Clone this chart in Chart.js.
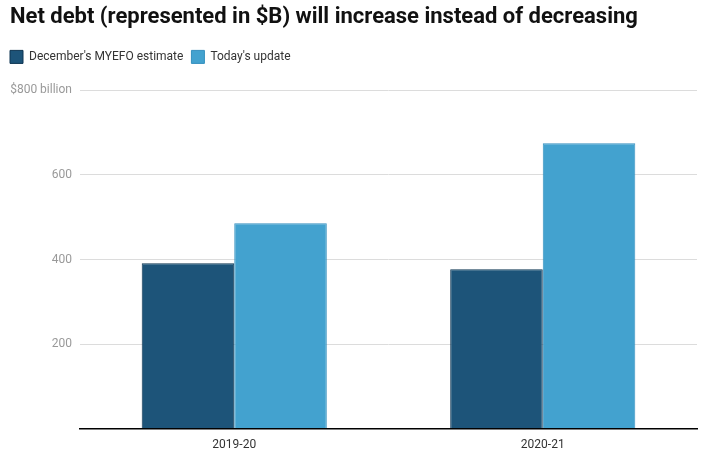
<!DOCTYPE html>
<html>
<head>
<meta charset="utf-8">
<script src="https://cdn.jsdelivr.net/npm/chart.js@4/dist/chart.umd.min.js"></script>
<style>
  html, body { margin: 0; padding: 0; background: #fff; }
  #wrap { width: 703px; height: 461px; }
</style>
</head>
<body>
<div id="wrap"><canvas id="myChart" width="703" height="461"></canvas></div>
<script>
const years = ["2019-20", "2020-21"]
const myefo = [391, 377]
const todayUpdate = [486, 675]
const yTicks = [0, 200, 400, 600, 800]

// shift legend left and leave room under it
const legendTweak = {
  id: "legendTweak",
  beforeInit(chart) {
    const fit = chart.legend.fit
    chart.legend.fit = function () {
      fit.call(this)
      this.height += 17
    }
  },
  afterLayout(chart) {
    chart.legend.left -= 8
    chart.legend.right -= 8
  }
}

const ctx = document.getElementById("myChart").getContext("2d")
const chart = new Chart(ctx, {
  type: "bar",
  data: {
    labels: years,
    datasets: [
      {
        label: "December's MYEFO estimate",
        data: myefo,
        backgroundColor: "#1d5479",
        borderColor: "#0e3552",
        borderWidth: 1
      },
      {
        label: "Today's update",
        data: todayUpdate,
        backgroundColor: "#43a2cf",
        borderColor: "#3590bf",
        borderWidth: 1
      }
    ]
  },
  options: {
    responsive: false,
    animation: false,
    devicePixelRatio: 1,
    layout: { padding: { left: 10, right: 6, top: 0, bottom: 0 } },
    datasets: { bar: { categoryPercentage: 0.6, barPercentage: 1.0 } },
    plugins: {
      title: {
        display: true,
        text: "Net debt (represented in $B) will increase instead of decreasing",
        align: "start",
        color: "#111",
        font: { family: "Roboto", size: 22, weight: "bold" },
        padding: { top: 4, bottom: 12 }
      },
      legend: {
        align: "start",
        labels: {
          color: "#333",
          font: { family: "Roboto", size: 12 },
          boxWidth: 13,
          boxHeight: 13,
          padding: 8
        }
      },
      tooltip: { enabled: false }
    },
    scales: {
      x: {
        grid: { display: false, drawTicks: false },
        border: { color: "#000", width: 1.5 },
        ticks: { color: "#333", font: { family: "Roboto", size: 12 }, padding: 9 }
      },
      y: {
        min: 0,
        max: 800,
        afterBuildTicks: axis => { axis.ticks = yTicks.map(v => ({ value: v })) },
        afterFit: axis => { axis.width = 70 },
        grid: { color: "#dcdcdc", drawTicks: false },
        border: { display: false },
        ticks: {
          color: "#999",
          font: { family: "Roboto", size: 12 },
          padding: 8,
          callback: v => v === 0 ? "" : (v === 800 ? "$800 billion" : String(v))
        }
      }
    }
  },
  plugins: [legendTweak]
})
</script>
</body>
</html>
